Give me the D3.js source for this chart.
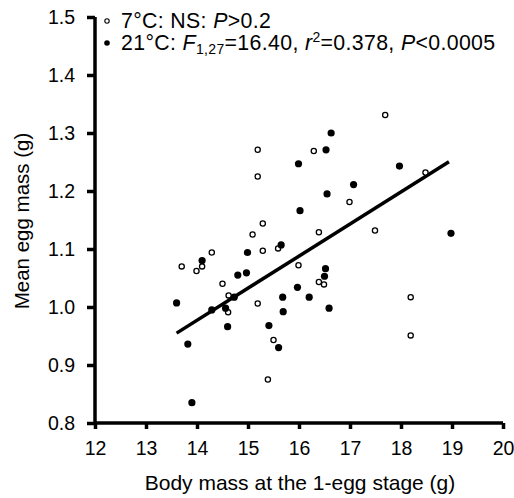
<!DOCTYPE html>
<html>
<head>
<meta charset="utf-8">
<script src="https://cdn.jsdelivr.net/npm/d3@7"></script>
<style>
  body { margin: 0; background: #fff; }
  svg text { font-family: "Liberation Sans", Arial, Helvetica, sans-serif; fill: #000; }
</style>
</head>
<body>
<svg id="chart" width="514" height="498"></svg>
<script>
var w = 514;
var h = 498;

// 7°C birds (open circles): body mass, mean egg mass
var coldMass = [13.70, 13.99, 14.10, 14.29, 14.50, 14.62, 15.19, 15.19, 15.29, 15.09, 15.29, 15.59, 14.61, 15.19,
  15.50, 15.39, 16.39, 15.99, 16.39, 16.49, 16.29, 16.99, 17.69, 18.48, 17.49, 18.19, 18.19];
var coldEgg = [1.070, 1.062, 1.070, 1.094, 1.040, 1.020, 1.271, 1.225, 1.144, 1.125, 1.097, 1.101, 0.991, 1.006,
  0.943, 0.875, 1.129, 1.072, 1.043, 1.039, 1.269, 1.181, 1.331, 1.232, 1.132, 1.017, 0.951];

// 21°C birds (filled circles)
var warmMass = [14.10, 14.99, 14.80, 14.97, 15.65, 15.68, 14.73, 13.60, 14.29, 14.56, 14.60, 13.82, 13.90, 15.41,
  15.60, 15.69, 16.52, 16.50, 15.97, 16.20, 16.59, 16.63, 16.53, 15.99, 17.07, 16.55, 16.02, 17.97, 18.98];
var warmEgg = [1.080, 1.094, 1.055, 1.059, 1.107, 1.017, 1.017, 1.007, 0.995, 0.998, 0.966, 0.936, 0.835, 0.968,
  0.930, 0.992, 1.066, 1.053, 1.034, 1.017, 0.998, 1.300, 1.271, 1.247, 1.211, 1.195, 1.166, 1.243, 1.127];

// regression line for 21°C, drawn over the range of those birds
var fitRange = [13.6, 18.94];
var fitIntercept = 0.2029;
var fitSlope = 0.0553;

var xTicks = [12, 13, 14, 15, 16, 17, 18, 19, 20];
var yTicks = [0.8, 0.9, 1.0, 1.1, 1.2, 1.3, 1.4, 1.5];

var svg = d3.select("#chart");

var x = d3.scaleLinear().domain([12, 20]).range([95, 503]);
var y = d3.scaleLinear().domain([0.8, 1.5]).range([423, 17]);

// axes
var xAxis = svg.append("g")
  .attr("transform", "translate(0," + y(0.8) + ")")
  .call(d3.axisBottom(x).tickValues(xTicks).tickSize(6).tickPadding(12).tickFormat(d3.format("d")));

var yAxis = svg.append("g")
  .attr("transform", "translate(" + x(12) + ",0)")
  .call(d3.axisLeft(y).tickValues(yTicks).tickSize(8).tickPadding(12).tickFormat(d3.format(".1f")));

[xAxis, yAxis].forEach(function (g) {
  g.select(".domain").attr("stroke", "#000").attr("stroke-width", 3.5);
  g.selectAll(".tick line").attr("stroke", "#000").attr("stroke-width", 3.5);
  g.selectAll(".tick text").attr("font-size", 19.5).attr("fill", "#000")
    .style("font-family", '"Liberation Sans", Arial, sans-serif');
});
xAxis.select(".domain").attr("d", "M" + x(12) + ",0H" + x(20));
yAxis.select(".domain").attr("d", "M0," + y(0.8) + "V" + y(1.5));

// axis titles
svg.append("text")
  .attr("x", 300).attr("y", 490)
  .attr("text-anchor", "middle")
  .attr("font-size", 21)
  .text("Body mass at the 1-egg stage (g)");

svg.append("text")
  .attr("transform", "translate(29," + 221 + ") rotate(-90)")
  .attr("text-anchor", "middle")
  .attr("font-size", 20.5)
  .text("Mean egg mass (g)");

// regression line
svg.append("line")
  .attr("x1", x(fitRange[0])).attr("y1", y(fitIntercept + fitSlope * fitRange[0]))
  .attr("x2", x(fitRange[1])).attr("y2", y(fitIntercept + fitSlope * fitRange[1]))
  .attr("stroke", "#000").attr("stroke-width", 3.5);

// points
svg.append("g").selectAll("circle")
  .data(d3.range(coldMass.length))
  .enter().append("circle")
  .attr("cx", function (i) { return x(coldMass[i]); })
  .attr("cy", function (i) { return y(coldEgg[i]); })
  .attr("r", 2.6)
  .attr("fill", "#fff")
  .attr("stroke", "#000")
  .attr("stroke-width", 1.3);

svg.append("g").selectAll("circle")
  .data(d3.range(warmMass.length))
  .enter().append("circle")
  .attr("cx", function (i) { return x(warmMass[i]); })
  .attr("cy", function (i) { return y(warmEgg[i]); })
  .attr("r", 3.6)
  .attr("fill", "#000");

// legend
var leg = svg.append("g");
leg.append("circle").attr("cx", 107).attr("cy", 21).attr("r", 2.2)
  .attr("fill", "#fff").attr("stroke", "#000").attr("stroke-width", 1.1);
leg.append("circle").attr("cx", 107).attr("cy", 43).attr("r", 2.8).attr("fill", "#000");

var t1 = leg.append("text").attr("x", 121).attr("y", 28).attr("font-size", 21.3)
  .attr("letter-spacing", 0.35);
t1.append("tspan").text("7°C: NS: ");
t1.append("tspan").attr("font-style", "italic").text("P");
t1.append("tspan").text(">0.2");

var t2 = leg.append("text").attr("x", 121).attr("y", 50).attr("font-size", 21.3)
  .attr("letter-spacing", 0.35);
t2.append("tspan").text("21°C: ");
t2.append("tspan").attr("font-style", "italic").text("F");
t2.append("tspan").attr("font-size", 14).attr("dy", 4).text("1,27");
t2.append("tspan").attr("dy", -4).text("=16.40, ");
t2.append("tspan").attr("font-style", "italic").text("r");
t2.append("tspan").attr("font-size", 14).attr("dy", -8).text("2");
t2.append("tspan").attr("dy", 8).text("=0.378, ");
t2.append("tspan").attr("font-style", "italic").text("P");
t2.append("tspan").text("<0.0005");
</script>
</body>
</html>
